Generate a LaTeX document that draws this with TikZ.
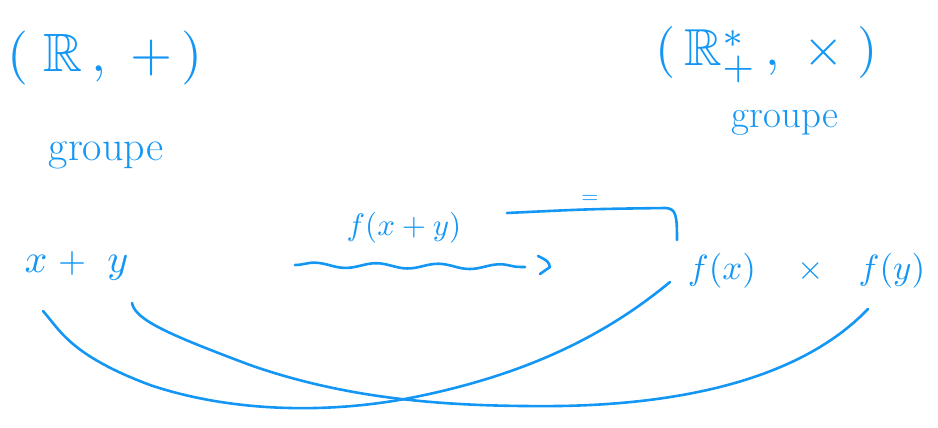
\documentclass[tikz,border=0pt]{standalone}
\usepackage{amssymb}
\usepackage{graphicx}
\usetikzlibrary{decorations.pathmorphing}
\definecolor{ink}{RGB}{20,150,245}
\newcommand\mth[2]{\scalebox{#1}{$#2$}}
\begin{document}
\begin{tikzpicture}[x=1pt,y=-1pt,
  txt/.style={text=ink, inner sep=0pt, anchor=base},
  ink line/.style={draw=ink, line width=2.6pt, line cap=round, line join=round},
  wave/.style={ink line, decorate, decoration={snake, amplitude=2.5pt, segment length=62pt}}]
\useasboundingbox (0,0) rectangle (938,428);
% top groups
\node[txt] (Rplus) at (105,72) {\mth{5.4}{(\;\mathbb{R}\,,\;+\,)}};
\node[txt, font=\fontsize{42}{46}\selectfont] (gL) at (106,160) {groupe};
\node[txt] (Rstar) at (767,66) {\mth{5.2}{(\,\mathbb{R}^{*}_{+}\,,\;\times\;)}};
\node[txt, font=\fontsize{39}{43}\selectfont] (gR) at (785,128) {groupe};
% bottom row
\node[txt] (nx) at (36,272) {\mth{4}{x}};
\node[txt] (np) at (72,272) {\mth{3.6}{+}};
\node[txt] (ny) at (118,272) {\mth{4}{y}};
\node[txt] (fxy) at (404,235) {\mth{3.1}{f(x+y)}};
\node[txt] (eq) at (590,203) {\mth{2.2}{=}};
\node[txt] (fx) at (722,279) {\mth{3.5}{f(x)}};
\node[txt] (tm) at (811,279) {\mth{3.4}{\times}};
\node[txt] (fy) at (892,279) {\mth{3.5}{f(y)}};
% coordinates
\coordinate (wvA) at (295,265);
\coordinate (wvB) at (525,267);
\coordinate (tipA) at (538,256);
\coordinate (tipB) at (550,267);
\coordinate (tipC) at (540,274);
\coordinate (brA) at (507,213);
\coordinate (brB) at (666,208);
\coordinate (brC) at (677,240);
\coordinate (c1s) at (43,311);
\coordinate (c1m) at (150,385);
\coordinate (c1n) at (420,396);
\coordinate (c1e) at (670,282);
\coordinate (c2s) at (132,303);
\coordinate (c2m) at (250,365);
\coordinate (c2n) at (560,406);
\coordinate (c2e) at (868,309);
% wavy arrow
\draw[wave] (wvA) -- (wvB);
\draw[ink line] (tipA) .. controls (548,261) .. (tipB) -- (tipC);
% equality bracket
\draw[ink line] (brA) .. controls (590,209) .. (brB) .. controls (676,209) and (677,215) .. (brC);
% crossing curves
\draw[ink line] (c1s) .. controls (60,330) and (70,355) .. (c1m)
  .. controls (230,412) and (330,415) .. (c1n)
  .. controls (520,375) and (600,340) .. (c1e);
\draw[ink line] (c2s) .. controls (135,320) and (170,335) .. (c2m)
  .. controls (350,400) and (450,407) .. (c2n)
  .. controls (680,404) and (800,380) .. (c2e);
\end{tikzpicture}
\end{document}
